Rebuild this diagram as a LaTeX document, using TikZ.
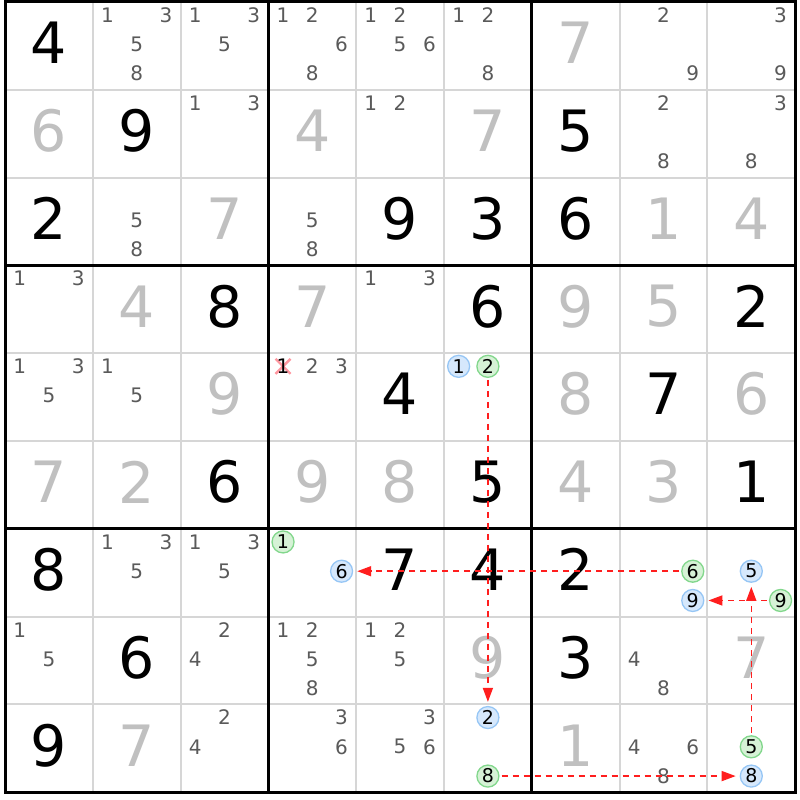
\documentclass[tikz,border=0pt]{standalone}
\usepackage{fontspec}
\setmainfont{DejaVu Sans}
\usetikzlibrary{arrows.meta}
\definecolor{gridgray}{RGB}{214,214,214}
\definecolor{candcol}{RGB}{90,90,90}
\definecolor{solvcol}{RGB}{192,192,192}
\definecolor{bfill}{RGB}{214,232,252}
\definecolor{bdraw}{RGB}{150,198,245}
\definecolor{gfill}{RGB}{214,242,214}
\definecolor{gdraw}{RGB}{130,215,140}
\definecolor{arrcol}{RGB}{255,30,30}
\definecolor{xcol}{RGB}{255,140,150}
\newcommand\cs{87.8}
\newcommand\Giv[3]{\node[given] (v-#1-#2) at ({5+(#2+0.5)*\cs},{2+(#1+0.5)*\cs-3}) {#3};}
\newcommand\Sol[3]{\node[solved] (v-#1-#2) at ({5+(#2+0.5)*\cs},{2+(#1+0.5)*\cs-3}) {#3};}
\newcommand\Cand[3]{\foreach \k in {#3}{\node[candtxt] (n-#1-#2-\k) at ({5+#2*\cs+(mod(\k-1,3)+0.5)*\cs/3},{2+#1*\cs+(floor((\k-1)/3)+0.5)*\cs/3-1.5}) {\k};}}
\newcommand\Circ[4]{\node[#4] (n-#1-#2-#3) at ({5+#2*\cs+(mod(#3-1,3)+0.5)*\cs/3},{2+#1*\cs+(floor((#3-1)/3)+0.5)*\cs/3-1.5}) {#3};}
\begin{document}
\begin{tikzpicture}[x=1pt,y=-1pt,
  given/.style={font=\fontsize{57}{57}\selectfont, text=black, inner sep=0pt},
  solved/.style={given, text=solvcol},
  candtxt/.style={font=\fontsize{20}{20}\selectfont, text=candcol, inner sep=0pt},
  bcirc/.style={circle, draw=bdraw, fill=bfill, line width=1.3pt, minimum size=22pt, inner sep=0pt, font=\fontsize{19}{19}\selectfont, text=black},
  gcirc/.style={bcirc, draw=gdraw, fill=gfill},
  link/.style={draw=arrcol, line width=1.6pt, dash pattern=on 6pt off 5pt, -{Triangle[length=14pt,width=10pt]}, shorten <=2pt, shorten >=4pt}]
\useasboundingbox (0,0) rectangle (800,800);
\fill[white] (0,0) rectangle (800,800);
% grid
\foreach \i in {1,2,4,5,7,8} {
  \draw[gridgray, line width=2pt] ({5+\i*\cs},2) -- ({5+\i*\cs},{2+9*\cs});
  \draw[gridgray, line width=2pt] (5,{2+\i*\cs}) -- ({5+9*\cs},{2+\i*\cs});
}
\foreach \i in {3,6} {
  \draw[black, line width=3pt] ({5+\i*\cs},2) -- ({5+\i*\cs},{2+9*\cs});
  \draw[black, line width=3pt] (5,{2+\i*\cs}) -- ({5+9*\cs},{2+\i*\cs});
}
\draw[black, line width=3pt] (5,2) rectangle ({5+9*\cs},{2+9*\cs});
% row 0
\Giv{0}{0}{4} \Cand{0}{1}{1,3,5,8} \Cand{0}{2}{1,3,5} \Cand{0}{3}{1,2,6,8} \Cand{0}{4}{1,2,5,6} \Cand{0}{5}{1,2,8} \Sol{0}{6}{7} \Cand{0}{7}{2,9} \Cand{0}{8}{3,9}
% row 1
\Sol{1}{0}{6} \Giv{1}{1}{9} \Cand{1}{2}{1,3} \Sol{1}{3}{4} \Cand{1}{4}{1,2} \Sol{1}{5}{7} \Giv{1}{6}{5} \Cand{1}{7}{2,8} \Cand{1}{8}{3,8}
% row 2
\Giv{2}{0}{2} \Cand{2}{1}{5,8} \Sol{2}{2}{7} \Cand{2}{3}{5,8} \Giv{2}{4}{9} \Giv{2}{5}{3} \Giv{2}{6}{6} \Sol{2}{7}{1} \Sol{2}{8}{4}
% row 3
\Cand{3}{0}{1,3} \Sol{3}{1}{4} \Giv{3}{2}{8} \Sol{3}{3}{7} \Cand{3}{4}{1,3} \Giv{3}{5}{6} \Sol{3}{6}{9} \Sol{3}{7}{5} \Giv{3}{8}{2}
% row 4
\Cand{4}{0}{1,3,5} \Cand{4}{1}{1,5} \Sol{4}{2}{9}
\node[candtxt, text=black] (n-4-3-1) at ({5+3*\cs+0.5*\cs/3},{2+4*\cs+0.5*\cs/3-1.5}) {\phantom{1}};
\draw[xcol, line width=2.4pt, opacity=0.9] ([shift={(-7.5,-7.5)}]n-4-3-1.center) -- ([shift={(7.5,7.5)}]n-4-3-1.center);
\draw[xcol, line width=2.4pt, opacity=0.9] ([shift={(-7.5,7.5)}]n-4-3-1.center) -- ([shift={(7.5,-7.5)}]n-4-3-1.center);
\node[candtxt, text=black] at (n-4-3-1.center) {1};
\Cand{4}{3}{2,3} \Giv{4}{4}{4} \Circ{4}{5}{1}{bcirc} \Circ{4}{5}{2}{gcirc} \Sol{4}{6}{8} \Giv{4}{7}{7} \Sol{4}{8}{6}
% row 5
\Sol{5}{0}{7} \Sol{5}{1}{2} \Giv{5}{2}{6} \Sol{5}{3}{9} \Sol{5}{4}{8} \Giv{5}{5}{5} \Sol{5}{6}{4} \Sol{5}{7}{3} \Giv{5}{8}{1}
% row 6
\Giv{6}{0}{8} \Cand{6}{1}{1,3,5} \Cand{6}{2}{1,3,5} \Circ{6}{3}{1}{gcirc} \Circ{6}{3}{6}{bcirc} \Giv{6}{4}{7} \Giv{6}{5}{4} \Giv{6}{6}{2} \Circ{6}{7}{6}{gcirc} \Circ{6}{7}{9}{bcirc} \Circ{6}{8}{5}{bcirc} \Circ{6}{8}{9}{gcirc}
% row 7
\Cand{7}{0}{1,5} \Giv{7}{1}{6} \Cand{7}{2}{2,4} \Cand{7}{3}{1,2,5,8} \Cand{7}{4}{1,2,5} \Sol{7}{5}{9} \Giv{7}{6}{3} \Cand{7}{7}{4,8} \Sol{7}{8}{7}
% row 8
\Giv{8}{0}{9} \Sol{8}{1}{7} \Cand{8}{2}{2,4} \Cand{8}{3}{3,6} \Cand{8}{4}{3,5,6} \Circ{8}{5}{2}{bcirc} \Circ{8}{5}{8}{gcirc} \Sol{8}{6}{1} \Cand{8}{7}{4,6,8} \Circ{8}{8}{5}{gcirc} \Circ{8}{8}{8}{bcirc}
% links
\draw[link] (n-4-5-2) -- (n-8-5-2);
\draw[link] (n-8-5-8) -- (n-8-8-8);
\draw[link] (n-8-8-5) -- (n-6-8-5);
\draw[link] (n-6-8-9) -- (n-6-7-9);
\draw[link] (n-6-7-6) -- (n-6-3-6);
\end{tikzpicture}
\end{document}
